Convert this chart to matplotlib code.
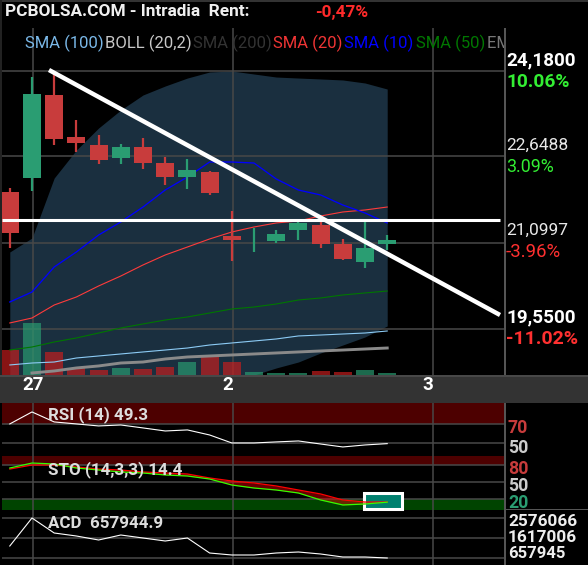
import matplotlib
matplotlib.use('Agg')
import matplotlib.pyplot as plt
from matplotlib.patches import Rectangle
import numpy as np

W, H = 588, 565
plt.rcParams['font.family'] = ['Roboto', 'DejaVu Sans']

# candles
highs = [22.082, 24.072, 24.126, 23.301, 23.032, 22.871, 22.979, 22.638, 22.602,
         22.387, 21.670, 21.365, 21.329, 21.491, 21.580, 21.168, 21.473, 21.239]
tops = [22.010, 23.768, 23.750, 22.997, 22.853, 22.817, 22.817, 22.530, 22.405,
        22.369, 21.222, 21.150, 21.257, 21.455, 21.419, 21.078, 21.006, 21.150]
bottoms = [21.275, 22.261, 22.961, 22.889, 22.584, 22.620, 22.530, 22.279, 22.279,
           21.993, 21.150, 21.150, 21.132, 21.329, 21.078, 20.809, 20.755, 21.078]
lows = [21.006, 22.028, 22.853, 22.728, 22.512, 22.512, 22.423, 22.136, 22.064,
        21.957, 20.773, 20.935, 21.096, 21.150, 21.006, 20.791, 20.648, 20.971]
is_up = [0, 1, 0, 0, 0, 1, 0, 0, 1, 0, 0, 1, 1, 1, 0, 0, 1, 1]
volumes = [25, 52, 23, 7, 5, 7, 6, 8, 13, 19, 13, 3, 2, 2, 4, 3, 5, 2]

# indicators on price
boll_upper = [20.935, 21.186, 22.261, 22.763, 23.158, 23.481, 23.750, 23.911, 24.054,
              24.162, 24.180, 24.126, 24.072, 24.054, 24.037, 24.019, 23.965, 23.857]
boll_lower = [18.50, 18.50, 18.50, 18.50, 18.50, 18.50, 18.50, 18.50, 18.50,
              18.50, 18.55, 18.729, 18.855, 18.962, 19.124, 19.267, 19.411, 19.608]
sma10 = [20.038, 20.217, 20.666, 20.935, 21.239, 21.473, 21.741, 22.046, 22.279,
         22.548, 22.548, 22.530, 22.244, 22.046, 21.957, 21.777, 21.634, 21.455]
sma20 = [19.662, 19.751, 19.984, 20.128, 20.325, 20.504, 20.702, 20.881, 21.024,
         21.168, 21.293, 21.383, 21.455, 21.491, 21.580, 21.652, 21.688, 21.741]
sma50 = [19.177, 19.231, 19.321, 19.393, 19.482, 19.572, 19.644, 19.715, 19.769,
         19.841, 19.913, 19.948, 20.002, 20.074, 20.110, 20.164, 20.200, 20.235]
sma100 = [18.909, 18.944, 18.962, 19.034, 19.070, 19.106, 19.142, 19.177, 19.213,
          19.267, 19.303, 19.339, 19.375, 19.429, 19.446, 19.464, 19.482, 19.518]
sma200 = [18.765, 18.801, 18.855, 18.891, 18.944, 18.962, 19.016, 19.052, 19.070,
          19.088, 19.106, 19.124, 19.142, 19.160, 19.177, 19.195, 19.213]

# hand drawn lines
trend_x = [1.766, 22.08]
trend_y = [24.198, 19.805]
level_y = 21.508

# lower panels
rsi = [70, 82.6, 72.1, 70, 67.9, 68.9, 65.8, 62.6, 63.7, 58.4, 50, 50, 51.1, 52.1,
       48.9, 45.8, 47.9, 49.3]
sto_d = [72.9, 80, 80, 76.5, 72.9, 71.2, 67.7, 65.9, 64.1, 57.1, 51.8, 48.3, 43, 35.9,
         28.9, 18.3, 14.7, 14.7]
sto_k = [74.7, 83.5, 81.8, 74.7, 71.2, 67.7, 65.9, 62.4, 60.6, 55.3, 44.7, 39.4, 35.9,
         30.6, 18.3, 9.5, 11.2, 14.4]
acd = [1233381, 2576066, 1856770, 1712911, 1521099, 1760864, 1617006, 1473146, 1617006,
       897710, 801804, 801804, 897710, 945664, 849757, 705898, 705898, 657945]

price_ticks = [24.18, 22.6488, 21.0997, 19.55]
day_pos = [1.04, 10.05, 19.06]
x = np.arange(18)

GRID = '#484848'
RED = '#c83c3c'
GREEN = '#2a9d72'
XMIN, XMAX = -0.351, 22.26

fig = plt.figure(figsize=(W / 100, H / 100), dpi=100, facecolor='black')


def panel(top, bottom, ylim):
    # axes placed by pixel rows of the picture
    ax = fig.add_axes([2 / W, 1 - bottom / H, 502 / W, (bottom - top) / H])
    ax.set_facecolor('none')
    ax.set_xlim(XMIN, XMAX)
    ax.set_ylim(*ylim)
    for s in ax.spines.values():
        s.set_visible(False)
    ax.tick_params(length=0, labelleft=False, labelbottom=False)
    ax.set_xticks(day_pos)
    return ax


def label(px, py, s, color='white', size=10.8, weight='bold', ha='left'):
    fig.text(px / W, 1 - py / H, s, color=color, fontsize=size, fontweight=weight,
             ha=ha, va='center')


# main panel
ax = panel(28, 375, (18.729, 24.951))
ax.set_yticks(price_ticks)
ax.grid(True, color=GRID, lw=1.1, zorder=1.5)
ax.set_axisbelow(True)
ax.fill_between(x, boll_lower, boll_upper, color='#1a2f3f', lw=0, antialiased=False, zorder=0.5)

vol_scale = 0.01793
for i in x:
    c = '#c81e1e' if not is_up[i] else GREEN
    ax.bar(i, volumes[i] * vol_scale, 0.81, bottom=18.729, color=c, alpha=0.68, lw=0, zorder=1.2)

ax.plot(x, sma50, color='#007700', lw=0.8, zorder=2.2)
ax.plot(x, sma100, color='#8ccbf5', lw=0.8, zorder=2.2)
ax.plot(x[1:], sma200, color='#8a8a8a', lw=2.1, zorder=2.2)
ax.plot(x, sma20, color='#ff3b3b', lw=0.8, zorder=2.6)
ax.plot(x, sma10, color='#0000ff', lw=0.95, zorder=2.6)

for i in x:
    c = GREEN if is_up[i] else RED
    ax.plot([i, i], [lows[i], highs[i]], color=c, lw=1.6, solid_capstyle='butt', zorder=3)
    ax.bar(i, tops[i] - bottoms[i], 0.81, bottom=bottoms[i], color=c, lw=0, zorder=3.1)

ax.plot(trend_x, trend_y, color='white', lw=3.2, solid_capstyle='butt', zorder=4, clip_on=False)
ax.plot([XMIN, 22.1], [level_y, level_y], color='white', lw=2.2, solid_capstyle='butt', zorder=4)

legend_items = [(25, 'SMA (100)', '#7ab8e8'), (105, 'BOLL (20,2)', '#c8c8c8'),
                (193, 'SMA (200)', '#333333'), (273, 'SMA (20)', '#f03535'),
                (344, 'SMA (10)', '#0000ff'), (416, 'SMA (50)', '#007700'),
                (487, 'EMA (5)', '#777777')]
for px, s, c in legend_items:
    ax.text(px / W, 1 - 43 / H, s, color=c, fontsize=12, va='center', clip_on=True,
            transform=fig.transFigure, zorder=5)

# RSI
ax_rsi = panel(403, 456, (36.3, 92))
ax_rsi.set_yticks([70, 50])
ax_rsi.grid(True, color=GRID, lw=1.1)
ax_rsi.set_axisbelow(True)
ax_rsi.axhspan(70, 92, color='#4d0000', lw=0, zorder=0.5)
ax_rsi.plot(x, rsi, color='white', lw=0.8, zorder=3)

# STO
ax_sto = panel(456, 510, (0.6, 95.9))
ax_sto.set_yticks([50])
ax_sto.grid(True, color=GRID, lw=1.1)
ax_sto.set_axisbelow(True)
ax_sto.axhspan(80, 95.9, color='#4d0000', lw=0, zorder=0.5)
ax_sto.axhspan(0.6, 20, color='#004400', lw=0, zorder=0.5)
ax_sto.axhline(80, color=GRID, lw=1.1, zorder=1)
ax_sto.axhline(20, color=GRID, lw=1.1, zorder=1)
box_x = (15.95, 17.66)
ax_sto.add_patch(Rectangle((box_x[0], 2), box_x[1] - box_x[0], 29, fc='#00806f', ec='white',
                           lw=2.2, zorder=2, clip_on=False))
ax_sto.fill_between(x, sto_d, sto_k, where=np.array(sto_d) > np.array(sto_k), color='#ff0000',
                    alpha=0.4, lw=0, zorder=2.5, interpolate=True)
ax_sto.plot(x, sto_d, color='#ff0000', lw=0.9, zorder=3)
ax_sto.plot(x, sto_k, color='#33ff00', lw=0.9, zorder=3)

# ACD
ax_acd = panel(510, 565, (322274, 2959690))
ax_acd.set_yticks([2576066, 1617006, 657945])
ax_acd.grid(True, color=GRID, lw=1.1)
ax_acd.set_axisbelow(True)
ax_acd.plot(x, acd, color='white', lw=0.8, zorder=3)

# frame and date strip
fig.add_artist(Rectangle((0, 1 - 403 / H), 1, 28 / H, fc='#333333', ec='none', transform=fig.transFigure))
fig.add_artist(Rectangle((0, 1 - 377 / H), 1, 2 / H, fc='#484848', ec='none', transform=fig.transFigure))
fig.add_artist(Rectangle((0, 1 - 2 / H), 1, 2 / H, fc='#333333', ec='none', transform=fig.transFigure))
fig.add_artist(Rectangle((0, 1 - 375 / H), 2 / W, 375 / H, fc='#222222', ec='none', transform=fig.transFigure))
fig.add_artist(Rectangle((504 / W, 1 - 375 / H), 1.5 / W, 347 / H, fc='#555555', ec='none', transform=fig.transFigure))
fig.add_artist(Rectangle((504 / W, 0), 1.5 / W, 162 / H, fc='#555555', ec='none', transform=fig.transFigure))
fig.add_artist(Rectangle((504 / W, 1 - 510 / H), 84 / W, 1.5 / H, fc='#555555', ec='none', transform=fig.transFigure))

label(5, 12, 'PCBOLSA.COM - Intradia  Rent:', '#f0f0f0', size=12.4)
label(315, 12, '-0,47%', '#ff2a2a', size=12.4)

for px, s in [(22, '27'), (222, '2'), (422, '3')]:
    label(px, 385, s, size=13.5)

right_labels = [(60, '24,1800', 'white', 'bold', 13.6), (82, '10.06%', '#33ee33', 'bold', 13.8),
                (145, '22,6488', '#e8e8e8', 'normal', 12.5), (167, '3.09%', '#33ee33', 'normal', 12.8),
                (230, '21,0997', '#e8e8e8', 'normal', 12.5), (252, '-3.96%', '#ff3030', 'normal', 13.4),
                (317, '19,5500', 'white', 'bold', 13.6), (339, '-11.02%', '#ff3030', 'bold', 14)]
for py, s, c, w, fs in right_labels:
    label(506, py, s, c, size=fs, weight=w)

panel_labels = [(428, '70', '#c83c3c', 12.8), (448, '50', '#cccccc', 12.8), (469, '80', '#c83c3c', 12.8),
                (486, '50', '#cccccc', 12.8), (503, '20', GREEN, 12.8), (521, '2576066', '#eeeeee', 12.4),
                (538, '1617006', '#eeeeee', 12.4), (554, '657945', '#eeeeee', 12)]
for py, s, c, fs in panel_labels:
    label(508, py, s, c, size=fs)

label(48, 415, 'RSI (14) 49.3', '#dddddd', size=12.2)
label(48, 470, 'STO (14,3,3) 14.4', '#dddddd', size=12.2)
label(48, 523, 'ACD  657944.9', '#dddddd', size=12.2)

fig.savefig('out.png', dpi=100, facecolor='black')
